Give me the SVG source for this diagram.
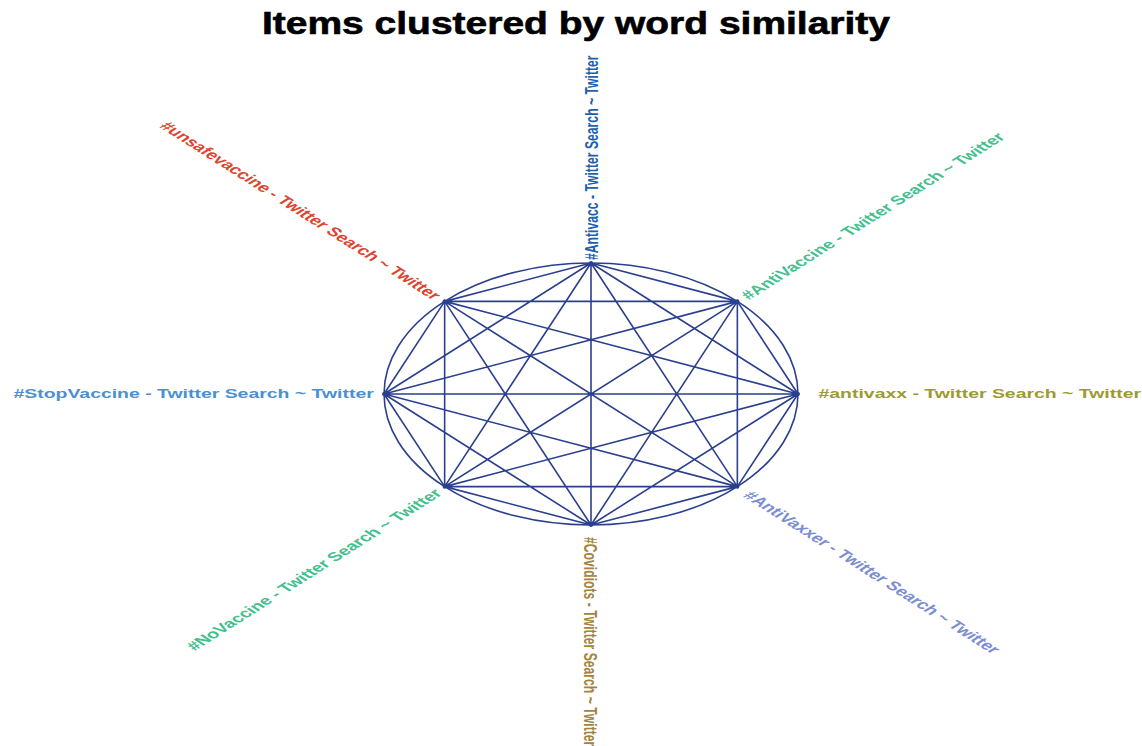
<svg xmlns="http://www.w3.org/2000/svg" width="1142" height="746" viewBox="0 0 1142 746">
<style>
.t{font-family:"Liberation Sans",Arial,sans-serif;font-weight:bold;font-size:31px;fill:#000;stroke:#000;stroke-width:0.6}
.e{stroke:#2b3f8f;stroke-width:1.6;fill:none;vector-effect:non-scaling-stroke}
.l{font-family:"Liberation Sans",Arial,sans-serif;font-weight:bold;font-size:12.6px}
.v{font-size:12.2px}
.h{font-size:12.3px}
.d{fill:#2b3f8f}
</style>
<rect width="1142" height="746" fill="#fff"/>
<text class="t" x="576" y="34" text-anchor="middle" textLength="628" lengthAdjust="spacingAndGlyphs">Items clustered by word similarity</text>
<g transform="translate(591,394) scale(1.58,1)">
<g id="connectors">
<circle class="e" cx="0" cy="0" r="131"/>
<path class="e" d="M131,0L92.63,-92.63M131,0L0,-131M131,0L-92.63,-92.63M131,0L-131,0M131,0L-92.63,92.63M131,0L0,131M131,0L92.63,92.63
M92.63,-92.63L0,-131M92.63,-92.63L-92.63,-92.63M92.63,-92.63L-131,0M92.63,-92.63L-92.63,92.63M92.63,-92.63L0,131M92.63,-92.63L92.63,92.63
M0,-131L-92.63,-92.63M0,-131L-131,0M0,-131L-92.63,92.63M0,-131L0,131M0,-131L92.63,92.63
M-92.63,-92.63L-131,0M-92.63,-92.63L-92.63,92.63M-92.63,-92.63L0,131M-92.63,-92.63L92.63,92.63
M-131,0L-92.63,92.63M-131,0L0,131M-131,0L92.63,92.63
M-92.63,92.63L0,131M-92.63,92.63L92.63,92.63
M0,131L92.63,92.63"/>
</g>
<g id="n-antivaxx">
<ellipse class="d" cx="131" cy="0" rx="1.3" ry="2"/>
<text class="l h" x="144" y="0" dy="0.36em" fill="#9c9a32">#antivaxx - Twitter Search ~ Twitter</text>
</g>
<g id="n-AntiVaccine">
<ellipse class="d" cx="92.63" cy="-92.63" rx="1.3" ry="2"/>
<text class="l" transform="translate(92.63,-92.63) rotate(-45)" x="6" y="0" dy="0.36em" fill="#45c08f">#AntiVaccine - Twitter Search ~ Twitter</text>
</g>
<g id="n-Antivacc">
<ellipse class="d" cx="0" cy="-131" rx="1.3" ry="2"/>
<text class="l v" transform="translate(0,-131) rotate(-90)" x="3" y="0" dy="0.36em" fill="#1f5fb0">#Antivacc - Twitter Search ~ Twitter</text>
</g>
<g id="n-unsafevaccine">
<ellipse class="d" cx="-92.63" cy="-92.63" rx="1.3" ry="2"/>
<text class="l" transform="translate(-92.63,-92.63) rotate(45)" x="-6" y="0" dy="0.36em" text-anchor="end" fill="#dc4630">#unsafevaccine - Twitter Search ~ Twitter</text>
</g>
<g id="n-StopVaccine">
<ellipse class="d" cx="-131" cy="0" rx="1.3" ry="2"/>
<text class="l h" x="-137.5" y="0" dy="0.36em" text-anchor="end" fill="#4a90d2">#StopVaccine - Twitter Search ~ Twitter</text>
</g>
<g id="n-NoVaccine">
<ellipse class="d" cx="-92.63" cy="92.63" rx="1.3" ry="2"/>
<text class="l" transform="translate(-92.63,92.63) rotate(-45)" x="-6" y="0" dy="0.36em" text-anchor="end" fill="#42c08e">#NoVaccine - Twitter Search ~ Twitter</text>
</g>
<g id="n-Covidiots">
<ellipse class="d" cx="0" cy="131" rx="1.3" ry="2"/>
<text class="l v" transform="translate(0,131) rotate(90)" x="12" y="0" dy="0.36em" fill="#a3843e">#Covidiots - Twitter Search ~ Twitter</text>
</g>
<g id="n-AntiVaxxer">
<ellipse class="d" cx="92.63" cy="92.63" rx="1.3" ry="2"/>
<text class="l" transform="translate(92.63,92.63) rotate(45)" x="9" y="0" dy="0.36em" fill="#7c8ed2">#AntiVaxxer - Twitter Search ~ Twitter</text>
</g>
</g>
</svg>
